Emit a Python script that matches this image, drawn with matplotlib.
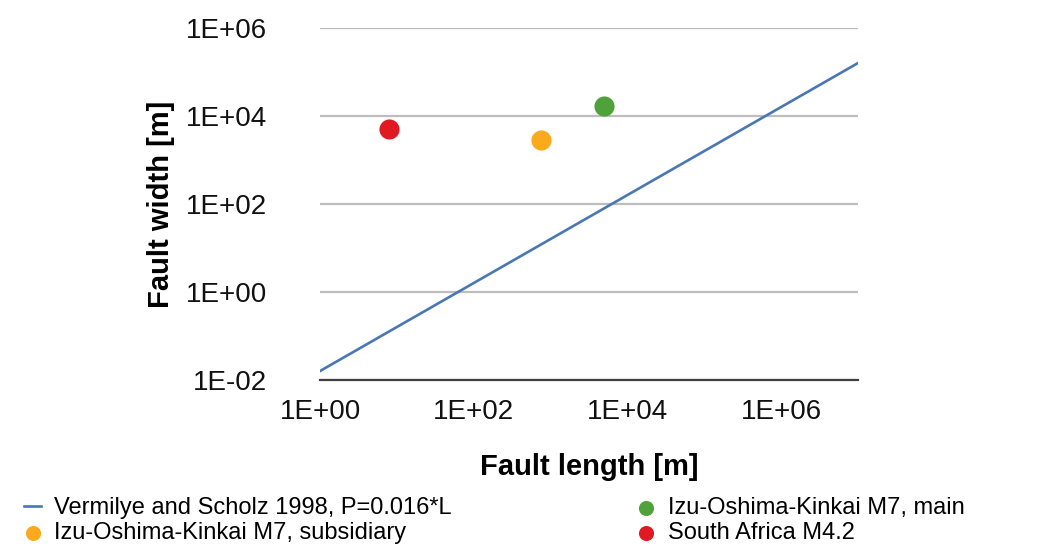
import numpy as np
import matplotlib.pyplot as plt
from matplotlib.ticker import FixedLocator, FuncFormatter

plt.rcParams['font.family'] = ['Liberation Sans', 'DejaVu Sans']

# Vermilye and Scholz 1998 relation, P = 0.016*L
line_L = [1.0, 1.0e7]
line_P = [0.016, 1.6e5]

# observed faults: length [m], width [m]
pt_names = ['Izu-Oshima-Kinkai M7, subsidiary', 'Izu-Oshima-Kinkai M7, main', 'South Africa M4.2']
pt_L = [760, 5000, 8]
pt_W = [2900, 17000, 5000]
pt_colors = ['#FBAA1E', '#4FA23A', '#E01A22']

fig = plt.figure(figsize=(10.4, 5.46), dpi=100)
ax = fig.add_axes([0.3077, 0.304, 0.5173, 0.6447])

ln, = ax.plot(line_L, line_P, color='#4A77B4', lw=1.9, zorder=3,
              label='Vermilye and Scholz 1998, P=0.016*L')
dots = []
for n, l, w, c in zip(pt_names, pt_L, pt_W, pt_colors):
    d = ax.scatter([l], [w], s=210, color=c, zorder=4, label=n, linewidths=0)
    dots.append(d)

ax.set_xscale('log')
ax.set_yscale('log')
ax.set_xlim(1, 1e7)
ax.set_ylim(1e-2, 1e6)

fmt = FuncFormatter(lambda v, p: '1E%+03d' % int(round(np.log10(v))))
ax.xaxis.set_major_locator(FixedLocator([1, 1e2, 1e4, 1e6]))
ax.yaxis.set_major_locator(FixedLocator([1e-2, 1, 1e2, 1e4, 1e6]))
ax.xaxis.set_minor_locator(FixedLocator([]))
ax.yaxis.set_minor_locator(FixedLocator([]))
ax.xaxis.set_major_formatter(fmt)
ax.yaxis.set_major_formatter(fmt)
ax.tick_params(axis='both', length=0, labelsize=20, colors='#111111')
ax.tick_params(axis='y', pad=38)
ax.tick_params(axis='x', pad=14)

ax.grid(axis='y', color='#BDBDBD', lw=1.6)
ax.set_axisbelow(True)
for s in ['top', 'right', 'left']:
    ax.spines[s].set_visible(False)
ax.spines['bottom'].set_color('#404040')
ax.spines['bottom'].set_linewidth(1.6)

ax.set_xlabel('Fault length [m]', fontsize=21, fontweight='bold', labelpad=20)
ax.set_ylabel('Fault width [m]', fontsize=21, fontweight='bold', labelpad=8)

fig.legend(handles=[ln, dots[0], dots[1], dots[2]], ncol=2, frameon=False,
           loc='lower left', bbox_to_anchor=(0.003, -0.035), fontsize=17,
           handlelength=0.7, handletextpad=0.55, columnspacing=7.9,
           labelspacing=0.12, markerscale=0.75)

fig.savefig('out.png', dpi=100)
